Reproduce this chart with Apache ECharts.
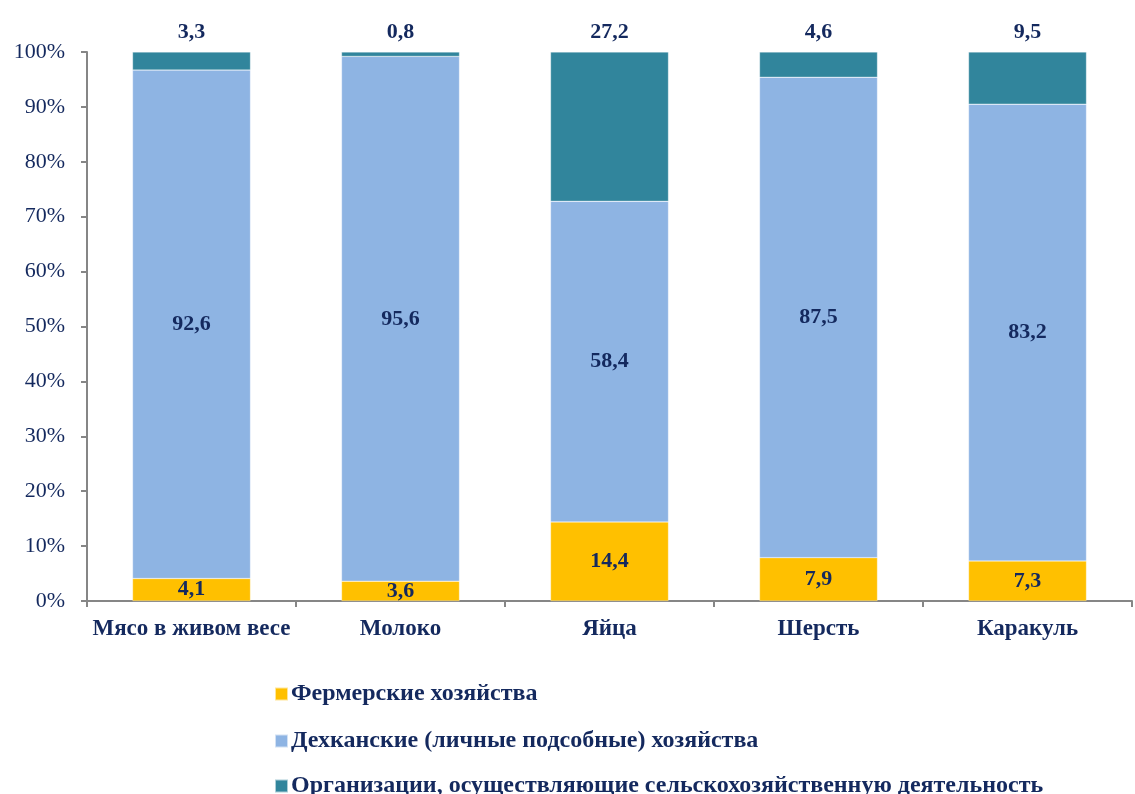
<!DOCTYPE html>
<html>
<head>
<meta charset="utf-8">
<script src="https://cdn.jsdelivr.net/npm/echarts@6/dist/echarts.min.js"></script>
<style>
  html, body { margin: 0; padding: 0; background: #fff; }
  #chart { width: 1135px; height: 794px; }
</style>
</head>
<body>
<div id="chart"></div>
<script>
// категории и доли по типам хозяйств, %
const categories = ['Мясо в живом весе', 'Молоко', 'Яйца', 'Шерсть', 'Каракуль'];
const seriesNames = [
  'Фермерские хозяйства',
  'Дехканские (личные подсобные) хозяйства',
  'Организации, осуществляющие сельскохозяйственную деятельность'
];
const farmers = [4.1, 3.6, 14.4, 7.9, 7.3];
const dekhkan = [92.6, 95.6, 58.4, 87.5, 83.2];
const organizations = [3.3, 0.8, 27.2, 4.6, 9.5];
const yTicks = ['0%', '10%', '20%', '30%', '40%', '50%', '60%', '70%', '80%', '90%', '100%'];

const textColor = '#14295e';
const font = 'Liberation Serif';
const comma = p => String(p.value).replace('.', ',');

const chart = echarts.init(document.getElementById('chart'));

const makeSeries = (name, data, color, labelPos) => ({
  name: name,
  type: 'bar',
  stack: 'total',
  barWidth: 118,
  data: data,
  itemStyle: { color: color, borderColor: 'rgba(255,255,255,0.6)', borderWidth: 0.5 },
  label: {
    show: true,
    position: labelPos,
    distance: 9,
    formatter: comma,
    color: textColor,
    fontFamily: font,
    fontWeight: 'bold',
    fontSize: 22
  }
});

// по одной легенде на строку, чтобы элементы шли столбиком
const legendTops = [682, 729, 774];
const legends = seriesNames.map((n, i) => ({
  data: [n],
  left: 274,
  top: legendTops[i],
  itemWidth: 13,
  itemHeight: 13,
  itemGap: 0,
  icon: 'rect',
  padding: 0,
  textStyle: {
    color: textColor, fontFamily: font, fontWeight: 'bold', fontSize: 24, padding: [0, 0, 0, -2]
  }
}));

const option = {
  animation: false,
  grid: { left: 87, right: 3, top: 52, bottom: 193, containLabel: false },
  xAxis: {
    type: 'category',
    data: categories,
    axisLine: { lineStyle: { color: '#868686', width: 2 } },
    axisTick: { show: true, length: 6, lineStyle: { color: '#868686', width: 2 } },
    axisLabel: {
      interval: 0,
      color: textColor, fontFamily: font, fontWeight: 'bold', fontSize: 23, margin: 17
    }
  },
  yAxis: {
    type: 'value',
    min: 0,
    max: 100,
    interval: 10,
    splitLine: { show: false },
    axisLine: { show: true, lineStyle: { color: '#868686', width: 2 } },
    axisTick: { show: true, length: 6, lineStyle: { color: '#868686', width: 2 } },
    axisLabel: {
      color: textColor, fontFamily: font, fontSize: 22, margin: 22,
      formatter: v => yTicks[Math.round(v / 10)]
    }
  },
  legend: legends,
  series: [
    makeSeries(seriesNames[0], farmers, '#ffc000', 'inside'),
    makeSeries(seriesNames[1], dekhkan, '#8eb4e3', 'inside'),
    makeSeries(seriesNames[2], organizations, '#31859c', 'top')
  ]
};

chart.setOption(option);
</script>
</body>
</html>
